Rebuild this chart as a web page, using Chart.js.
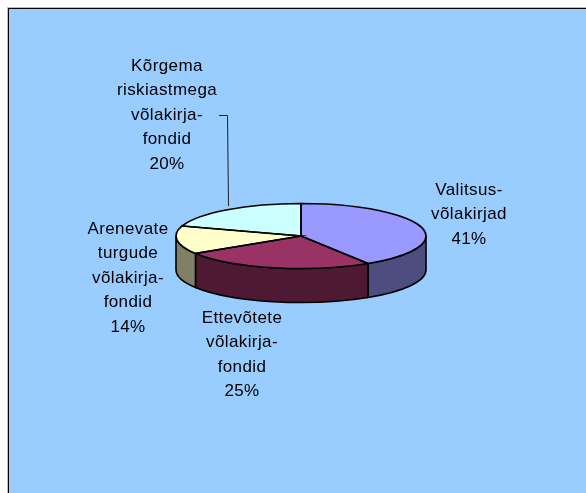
<!DOCTYPE html>
<html>
<head>
<meta charset="utf-8">
<style>
  html, body { margin: 0; padding: 0; background: #fff; overflow: hidden; }
  canvas { display: block; }
</style>
<script src="https://cdn.jsdelivr.net/npm/chart.js@4/dist/chart.umd.min.js"></script>
</head>
<body>
<canvas id="pieChart" width="586" height="493"></canvas>
<script>
const categories = [
  ['Valitsus-', 'võlakirjad'],
  ['Ettevõtete', 'võlakirja-', 'fondid'],
  ['Arenevate', 'turgude', 'võlakirja-', 'fondid'],
  ['Kõrgema', 'riskiastmega', 'võlakirja-', 'fondid'],
];
const shares = [41, 25, 14, 20];
const topColors = ['#9999FF', '#993366', '#FFFFCC', '#CCFFFF'];
const wallColors = ['#4D4D80', '#4D1933', '#808066', '#668080'];

// label anchors (centre x, first line y)
const labelSpots = [[469, 190], [242, 318], [128, 229], [167, 66]];
const lineGap = 24.5;
const squash = 0.26;
const depth = 34;

const pie3d = {
  id: 'pie3d',
  beforeDraw(chart) {
    const c = chart.ctx;
    c.save();
    c.fillStyle = '#99CCFF';
    c.fillRect(8, 8, 578, 485);
    c.fillStyle = '#BDBDBD';
    c.fillRect(7, 7, 579, 1);
    c.fillRect(7, 7, 1, 486);
    c.fillStyle = '#000';
    c.fillRect(8, 8, 578, 1);
    c.fillRect(8, 8, 1, 485);
    c.restore();
  },
  beforeDatasetsDraw(chart) {
    const c = chart.ctx;
    const arcs = chart.getDatasetMeta(0).data;
    const { x, y, outerRadius } = arcs[0];
    const ry = outerRadius * squash;
    c.save();
    c.lineWidth = 1.6;
    c.strokeStyle = '#000';
    arcs.forEach((arc, i) => {
      const a0 = Math.max(arc.startAngle, 0);
      const a1 = Math.min(arc.endAngle, Math.PI);
      if (a1 <= a0) return;
      c.beginPath();
      c.ellipse(x, y, outerRadius, ry, 0, a0, a1);
      c.ellipse(x, y + depth, outerRadius, ry, 0, a1, a0, true);
      c.closePath();
      c.fillStyle = wallColors[i];
      c.fill();
      c.stroke();
    });
    c.restore();
    // squash the library's own arcs into the tilted top face
    c.save();
    c.translate(x, y);
    c.scale(1, squash);
    c.translate(-x, -y);
  },
  afterDatasetsDraw(chart) {
    const c = chart.ctx;
    c.restore();
    const arcs = chart.getDatasetMeta(0).data;
    const { x, y, outerRadius } = arcs[0];
    const ry = outerRadius * squash;
    c.save();
    c.lineWidth = 1.6;
    c.strokeStyle = '#000';
    arcs.forEach((arc) => {
      c.beginPath();
      c.moveTo(x, y);
      c.ellipse(x, y, outerRadius, ry, 0, arc.startAngle, arc.endAngle);
      c.closePath();
      c.stroke();
    });
    c.restore();
  },
  afterDraw(chart) {
    const c = chart.ctx;
    c.save();
    c.strokeStyle = '#222';
    c.lineWidth = 1;
    c.beginPath();
    c.moveTo(219, 115.5);
    c.lineTo(227.5, 115.5);
    c.lineTo(228.5, 206);
    c.stroke();
    c.fillStyle = '#000';
    c.font = '17px "Liberation Sans", Arial, sans-serif';
    c.letterSpacing = '0.4px';
    c.textAlign = 'center';
    c.textBaseline = 'middle';
    categories.forEach((lines, i) => {
      const [lx, ly] = labelSpots[i];
      [...lines, shares[i] + '%'].forEach((t, n) => c.fillText(t, lx, ly + n * lineGap));
    });
    c.restore();
  },
};

new Chart(document.getElementById('pieChart'), {
  type: 'pie',
  data: {
    labels: categories.map((l) => l.join(' ')),
    datasets: [{ data: shares, backgroundColor: topColors, borderWidth: 0 }],
  },
  options: {
    responsive: false,
    animation: false,
    layout: { padding: { left: 176, right: 160, top: 111, bottom: 132 } },
    plugins: { legend: { display: false }, tooltip: { enabled: false } },
  },
  plugins: [pie3d],
});
</script>
</body>
</html>
